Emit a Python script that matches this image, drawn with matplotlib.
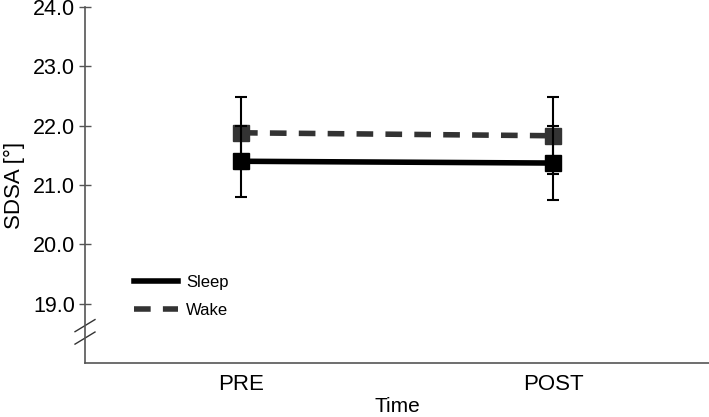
import matplotlib
matplotlib.use("Agg")
import matplotlib.pyplot as plt
import numpy as np
from matplotlib.lines import Line2D

times = ["PRE", "POST"]
sleep_mean = [21.40, 21.37]
sleep_err = [0.60, 0.63]
wake_mean = [21.88, 21.83]
wake_err = [0.61, 0.65]
yticks = [19.0, 20.0, 21.0, 22.0, 23.0, 24.0]

plt.rcParams['font.family'] = ['Liberation Sans', 'DejaVu Sans']
fig = plt.figure(figsize=(7.09, 4.17), dpi=100)
ax = fig.add_axes([85/709, 54/417, 624/709, 356/417])
x = np.arange(len(times))

ax.errorbar(x, sleep_mean, yerr=sleep_err, color='black', lw=4, marker='s', ms=11,
            ecolor='black', elinewidth=1.5, capsize=4.5, capthick=1.5, label='Sleep', zorder=3)
ax.errorbar(x, wake_mean, yerr=wake_err, color='#333333', lw=4, ls=(0, (3, 2.2)), marker='s', ms=11,
            ecolor='black', elinewidth=1.5, capsize=4.5, capthick=1.5, label='Wake', zorder=2)

ax.set_xlim(-0.5, 1.5)
ax.set_ylim(18.0, 24.0)
ax.set_yticks(yticks)
ax.set_yticklabels([f"{v:.1f}" for v in yticks], fontsize=15.5)
ax.set_xticks(x)
ax.set_xticklabels(times, fontsize=16)
ax.tick_params(axis='x', length=0, pad=8)
ax.tick_params(axis='y', direction='inout', length=8, width=1, color='#555555', pad=3)
for s in ['top', 'right']:
    ax.spines[s].set_visible(False)
for s in ['left', 'bottom']:
    ax.spines[s].set_color('#555555')
    ax.spines[s].set_linewidth(1.2)
ax.set_ylabel("SDSA [°]", fontsize=16, labelpad=6)
ax.set_xlabel("Time", fontsize=15, labelpad=1)

# axis break marks
for dy in (0.0, 0.035):
    ax.plot([-0.016, 0.016], [0.088 - dy, 0.122 - dy], transform=ax.transAxes,
            color='#333333', lw=1, clip_on=False)

handles = [Line2D([], [], color='black', lw=4),
           Line2D([], [], color='#333333', lw=4, ls=(0, (3, 2.2)))]
ax.legend(handles, ['Sleep', 'Wake'], loc='lower left', bbox_to_anchor=(0.055, 0.085),
          frameon=False, fontsize=12, handlelength=2.6, labelspacing=0.75, handletextpad=0.5)

fig.savefig("out.png", dpi=100)
